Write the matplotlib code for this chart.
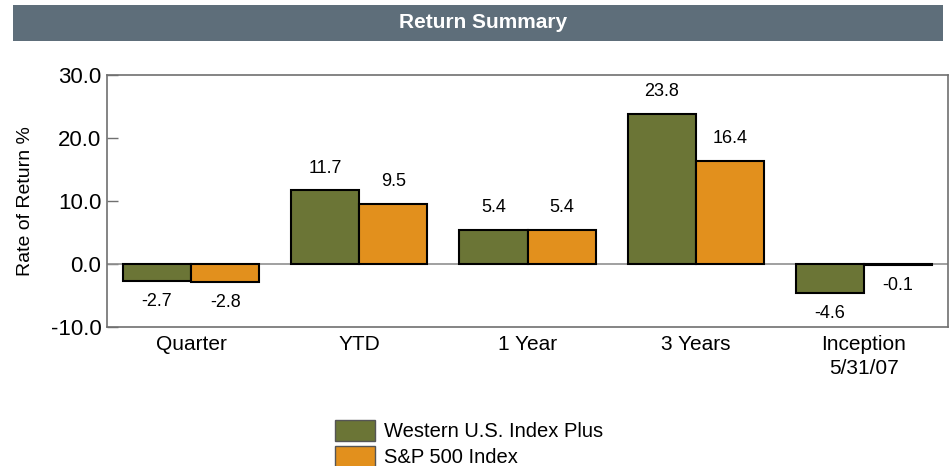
import matplotlib
matplotlib.use("Agg")
import matplotlib.pyplot as plt
from matplotlib.patches import Rectangle, Patch
import numpy as np

# Return summary data
periods = ["Quarter", "YTD", "1 Year", "3 Years", "Inception\n5/31/07"]
western = [-2.7, 11.7, 5.4, 23.8, -4.6]
sp500 = [-2.8, 9.5, 5.4, 16.4, -0.1]
series_names = ["Western U.S. Index Plus", "S&P 500 Index"]
y_ticks = [-10.0, 0.0, 10.0, 20.0, 30.0]

GREEN = "#6b7536"
ORANGE = "#e2901d"
HEADER = "#5e6e7a"
SPINE = "#707070"

plt.rcParams["font.family"] = ["Liberation Sans", "DejaVu Sans"]

fig = plt.figure(figsize=(9.5, 4.66), dpi=100)

# header band
fig.patches.append(Rectangle((13 / 950, 1 - 41 / 466), 930 / 950, 36 / 466,
                             transform=fig.transFigure, facecolor=HEADER,
                             edgecolor="none", zorder=0))
fig.text(0.508, 1 - 23 / 466, "Return Summary", color="white", fontsize=15,
         fontweight="bold", ha="center", va="center")

ax = fig.add_axes([107 / 950, 1 - 327 / 466, 841 / 950, 252 / 466])

x = np.arange(len(periods)) + 0.5
w = 0.405
ax.bar(x - w / 2, western, w, color=GREEN, edgecolor="black", linewidth=1.5, zorder=3)
ax.bar(x + w / 2, sp500, w, color=ORANGE, edgecolor="black", linewidth=1.5, zorder=3)

for xs, vals in ((x - w / 2, western), (x + w / 2, sp500)):
    for xi, v in zip(xs, vals):
        off = 16 if v >= 0 else -15
        ax.annotate(f"{v:.1f}", (xi, v), xytext=(0, off), textcoords="offset points",
                    ha="center", va="center", fontsize=13)

ax.axhline(0, color="#909090", linewidth=1.2, zorder=2)
ax.set_xlim(0, len(periods))
ax.set_ylim(-10, 30)
ax.set_yticks(y_ticks)
ax.set_yticklabels([f"{t:.1f}" for t in y_ticks], fontsize=16)
ax.tick_params(axis="y", direction="in", length=8, color=SPINE, width=1, pad=4)
ax.set_xticks(x)
ax.set_xticklabels(periods, fontsize=15, linespacing=1.3)
ax.tick_params(axis="x", length=0, pad=6)
for s in ax.spines.values():
    s.set_color(SPINE)
    s.set_linewidth(1.2)
ax.set_ylabel("Rate of Return %", fontsize=14, labelpad=12)

handles = [Patch(facecolor=GREEN, edgecolor="#555555"),
           Patch(facecolor=ORANGE, edgecolor="#555555")]
fig.legend(handles, series_names, loc="upper left",
           bbox_to_anchor=(327 / 950, 1 - 412 / 466), frameon=False,
           fontsize=14.5, handlelength=2.0, handleheight=1.25,
           handletextpad=0.45, labelspacing=0.2, borderaxespad=0)

fig.savefig("out.png", dpi=100)
